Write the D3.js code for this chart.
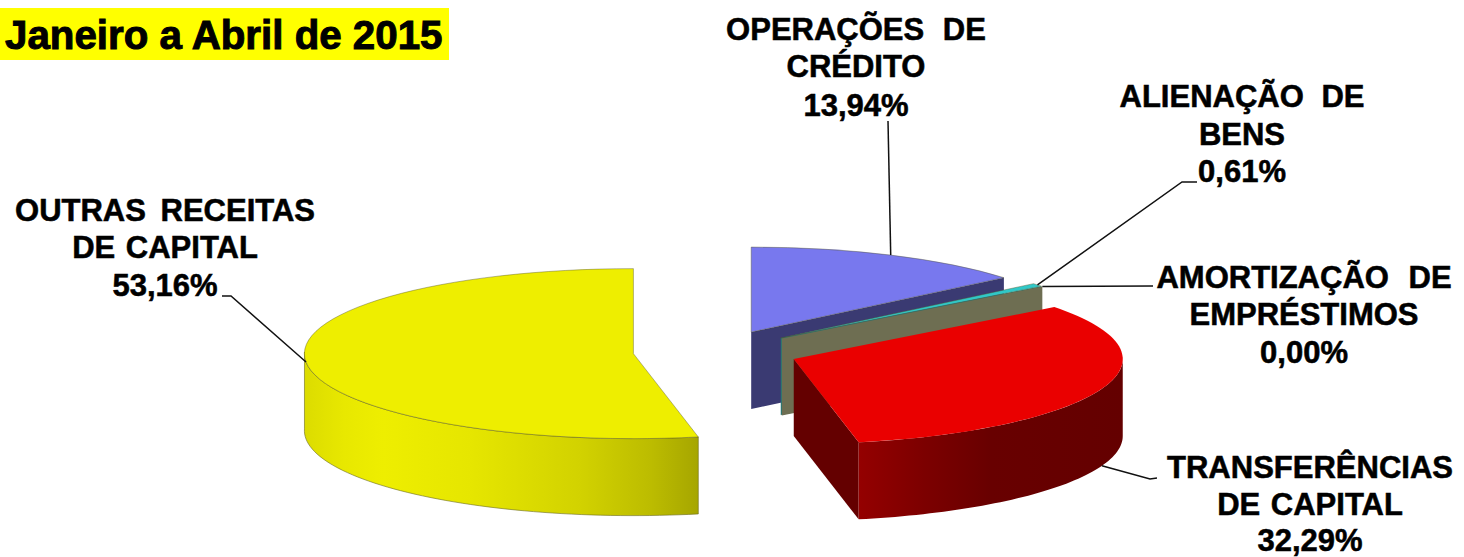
<!DOCTYPE html>
<html><head><meta charset="utf-8">
<script src="https://cdn.jsdelivr.net/npm/d3@7"></script>
<style>html,body{margin:0;padding:0;background:#fff;overflow:hidden}svg{display:block}
text{font-family:"Liberation Sans",Arial,sans-serif;font-weight:700;fill:#000;stroke:#000;stroke-width:.55px}</style>
</head><body><div id="c"></div>
<script>
const title = "Janeiro a Abril de 2015";
const categories = [["OPERAÇÕES DE","CRÉDITO"],["ALIENAÇÃO DE","BENS"],["AMORTIZAÇÃO DE","EMPRÉSTIMOS"],["TRANSFERÊNCIAS","DE CAPITAL"],["OUTRAS RECEITAS","DE CAPITAL"]];
const values = [13.94,0.61,0.00,32.29,53.16];
const topColors = ["#7878ee","#30c8c8","#6e6e52","#ea0000","#eeee00"];
const cutColors = ["#3a3a72","#1c7878","#6e6e52","#640000","#a8a800"];
// label layout: centre x, baselines of the three lines, word gap of first line; leader path
const labelX = [856,1242,1304,1310,165];
const labelY = [[40,77,116],[107,145,182],[288,325,363],[478,515,551],[221,258,296]];
const labelGap = [10,9,11,0,6];
const leaderTail = [[[888,121]],[[1182,182],[1197,182]],[[1153,286]],[[1150,479],[1157,478]],[[231,296],[222,296]]];

const W=1464,H=557,cx=716,cy=351.5,rx=329,ry=85,depth=77,explode=83,k=ry/rx;
const svg=d3.select("#c").append("svg").attr("width",W).attr("height",H);
const defs=svg.append("defs");
const pie=d3.pie().sort(null).value(d=>d.v).startAngle(0).endAngle(2*Math.PI);
const slices=pie(values.map((v,i)=>({v,i})));
slices.forEach(s=>{const m=(s.startAngle+s.endAngle)/2;s.mid=m;
  s.x=cx+explode*Math.sin(m);s.y=cy-explode*Math.cos(m)*k;});
const pt=(s,a,r=rx)=>[s.x+r*Math.sin(a),s.y-r*k*Math.cos(a)];
const lineGen=d3.line();
const arcGen=d3.arc().innerRadius(0).outerRadius(rx);

function grad(id,x1,x2,stops){const g=defs.append("linearGradient").attr("id",id).attr("gradientUnits","userSpaceOnUse")
  .attr("x1",x1).attr("x2",x2).attr("y1",0).attr("y2",0);
  stops.forEach(([o,c])=>g.append("stop").attr("offset",o).attr("stop-color",c));}
grad("gy",305,698,[[0,"#dcdc00"],[.1,"#e8e800"],[.2,"#eeee00"],[.42,"#e6e600"],[.7,"#d2d200"],[.88,"#bcbc00"],[1,"#a6a600"]]);
grad("gr",859,1123,[[0,"#940000"],[.25,"#7c0000"],[.5,"#680000"],[1,"#640000"]]);

function wallPath(s,a0,a1){const n=d3.range(0,61).map(i=>a0+(a1-a0)*i/60);
  const up=n.map(a=>pt(s,a));const dn=n.slice().reverse().map(a=>{const p=pt(s,a);return [p[0],p[1]+depth];});
  return lineGen(up.concat(dn))+"Z";}
function cutPath(s,a){const c=[s.x,s.y],p=pt(s,a);
  return lineGen([c,p,[p[0],p[1]+depth],[c[0],c[1]+depth]])+"Z";}

const g=svg.append("g");
slices.forEach((s,i)=>{
  const gs=g.append("g");
  if(i<4) gs.append("path").attr("d",cutPath(s,s.endAngle)).attr("fill",cutColors[i]);
  if(i===3) gs.append("path").attr("d",wallPath(s,Math.PI/2,s.endAngle)).attr("fill","url(#gr)");
  if(i===4) gs.append("path").attr("d",wallPath(s,s.startAngle,1.5*Math.PI+0.02)).attr("fill","url(#gy)")
     .attr("stroke","#6a6a20").attr("stroke-width",.6);
  if(s.endAngle>s.startAngle)
    gs.append("path").attr("d",arcGen(s)).attr("transform",`translate(${s.x},${s.y}) scale(1,${k})`)
      .attr("fill",topColors[i]).attr("stroke",i===3?"none":"#55552a").attr("stroke-opacity",.7)
      .attr("stroke-width",.6).attr("vector-effect","non-scaling-stroke");
});

// leaders
slices.forEach((s,i)=>{let a=pt(s,s.mid);
  if(i===3) a=[a[0],a[1]+depth];
  svg.append("path").attr("d",lineGen([a].concat(leaderTail[i]))).attr("fill","none").attr("stroke","#111").attr("stroke-width",1.5);
});

// labels
const fmt=v=>v.toFixed(2).replace(".",",")+"%";
categories.forEach((c,i)=>{
  c.concat(fmt(values[i])).forEach((t,j)=>{
    svg.append("text").attr("x",labelX[i]).attr("y",labelY[i][j]).attr("text-anchor","middle")
      .attr("font-size",31).attr("word-spacing",j===0?labelGap[i]:2).text(t);
  });
});

// title
svg.append("rect").attr("x",0).attr("y",8).attr("width",449).attr("height",52).attr("fill","#ffff00");
svg.append("text").attr("x",5).attr("y",49).attr("font-size",40.3).style("stroke-width","1px").text(title);
</script></body></html>
